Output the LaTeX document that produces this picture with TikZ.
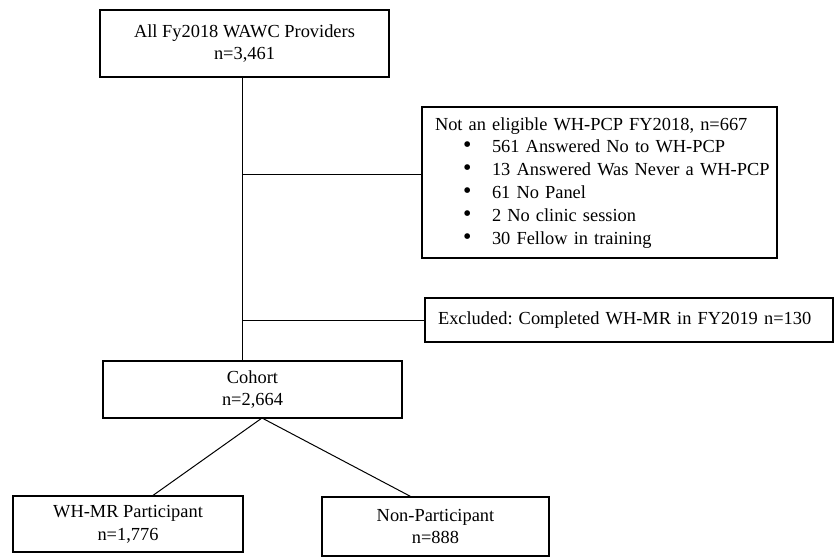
\documentclass[tikz,border=0pt]{standalone}
\usepackage{fontspec}
\setmainfont{Liberation Serif}
\usetikzlibrary{calc}
\newcommand{\bul}{\hspace*{14pt}\makebox[14.5pt][l]{\scalebox{1.3}{\textbullet}}}
\begin{document}
\frenchspacing
\begin{tikzpicture}[x=0.5pt,y=-0.5pt,
    box/.style={draw=black,line width=0.6pt,inner sep=0pt,align=center,
      font=\fontsize{9.2}{11.4}\selectfont},
    link/.style={draw=black,line width=0.5pt}]
    \useasboundingbox (0,0) rectangle (834,557);
    % boxes
    \node[box,minimum width=144.5pt,minimum height=33.5pt] (all) at (244.5,43.5)
      {All Fy2018 WAWC Providers\\n=3,461};
    \node[box,minimum width=177.5pt,minimum height=75.5pt,text width=164.5pt,align=left] (elig) at (599.5,182.5)
      {\begin{tabular}{@{}l@{}}
       Not an eligible WH-PCP FY2018, n=667\\
       \bul 561 Answered No to WH-PCP\\
       \bul 13 Answered Was Never a WH-PCP\\
       \bul 61 No Panel\\
       \bul 2 No clinic session\\
       \bul 30 Fellow in training
       \end{tabular}};
    \node[box,minimum width=204pt,minimum height=22pt,text width=191pt,align=left] (excl) at (629,320)
      {\mbox{Excluded: Completed WH-MR in FY2019 n=130}};
    \node[box,minimum width=149.5pt,minimum height=28.5pt] (cohort) at (252.5,389.5)
      {Cohort\\n=2,664};
    \node[box,minimum width=115pt,minimum height=28pt] (part) at (128,524)
      {WH-MR Participant\\n=1,776};
    \node[box,minimum width=113.5pt,minimum height=29.5pt] (nonpart) at (435.5,526.5)
      {Non-Participant\\n=888};
    % connectors
    \coordinate (spine) at (242,77);
    \coordinate (apex) at (262,418);
    \coordinate (eligin) at ($(elig.west)+(0,-8.5)$);
    \draw[link] (spine) -- (spine |- cohort.north);
    \draw[link] (eligin) -- (eligin -| spine);
    \draw[link] (excl.west) -- (excl.west -| spine);
    \draw[link] (apex) -- ($(part.north)+(25,0)$);
    \draw[link] (apex) -- ($(nonpart.north)+(-25,0)$);
\end{tikzpicture}
\end{document}
